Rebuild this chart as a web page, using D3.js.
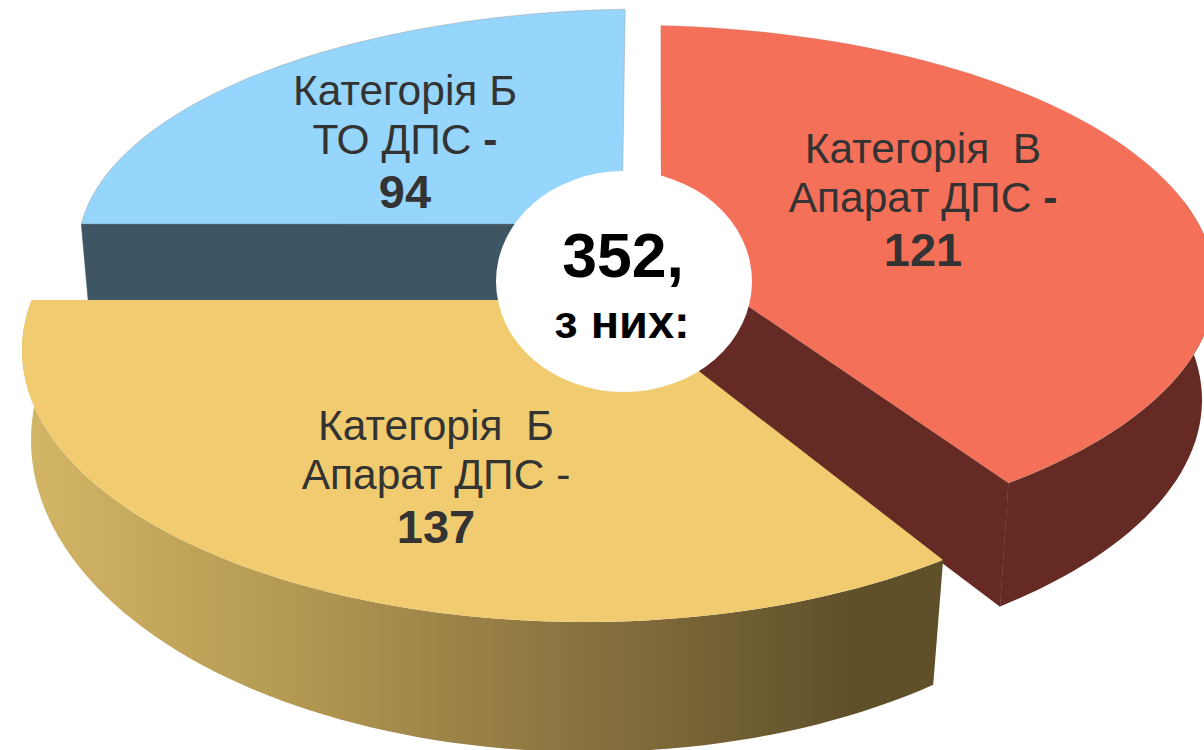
<!DOCTYPE html>
<html>
<head>
<meta charset="utf-8">
<script src="https://cdn.jsdelivr.net/npm/d3@7"></script>
<style>
  html, body { margin: 0; padding: 0; background: #fff; }
  svg { display: block; }
  text { font-family: "Liberation Sans", Arial, sans-serif; white-space: pre; }
</style>
</head>
<body>
<div id="chart"></div>
<script>
// Data
const categories = ['Категорія Б', 'Категорія  В', 'Категорія  Б'];
const departments = ['ТО ДПС', 'Апарат ДПС', 'Апарат ДПС'];
const values = [94, 121, 137];
const subtitle = 'з них:';

const totalW = 1204;
const totalH = 750;
const rad = d => d * Math.PI / 180;

const svg = d3.select('#chart').append('svg')
  .attr('width', totalW).attr('height', totalH)
  .attr('viewBox', `0 0 ${totalW} ${totalH}`);

const arcs = d3.pie().sort(null)
  .startAngle(rad(-96.14)).endAngle(rad(263.86))(values);

// Scene of each exploded slice. The picture is not a true projection, so each
// slice has its own rim ellipse, floor ellipse and the angles it is seen under.
const scene = [
  {
    apex: [622, 224], apexDepth: 78, view: [-83.8, -2.3], floorShift: 0,
    rim: { cx: 648, cy: 250, rx: 570, ry: 241 },
    floor: { cx: 648, cy: 329, rx: 563, ry: 250 },
    top: '#96d6fc', side: '#3e5663', edge: 0.5, lx: 405, ly: 105
  },
  {
    apex: [661, 247], apexDepth: 104, view: [3.2, 139.6], floorShift: 0,
    rim: { cx: 628, cy: 285, rx: 587, ry: 260 },
    floor: { cx: 628, cy: 400, rx: 574, ry: 271 },
    top: '#f57058', side: '#642a23', edge: 0.25, lx: 923, ly: 163
  },
  {
    apex: [607, 300], apexDepth: 120, view: [140.5, 280.6], floorShift: 1.2,
    rim: { cx: 585, cy: 350, rx: 563, ry: 272 },
    floor: { cx: 588, cy: 440, rx: 557, ry: 312 },
    top: '#f1cb6f', side: 'url(#wallGold)', edge: 0, lx: 436, ly: 440
  }
];

const onEllipse = (e, a) => [e.cx + e.rx * Math.sin(a), e.cy - e.ry * Math.cos(a)];
const line = d3.line();

// Wall gradient under the yellow slice
const grad = svg.append('defs').append('linearGradient')
  .attr('id', 'wallGold').attr('gradientUnits', 'userSpaceOnUse')
  .attr('x1', 30).attr('x2', 850).attr('y1', 0).attr('y2', 0);
grad.append('stop').attr('offset', '0%').attr('stop-color', '#d3b566');
grad.append('stop').attr('offset', '35%').attr('stop-color', '#b09650');
grad.append('stop').attr('offset', '66%').attr('stop-color', '#8a7340');
grad.append('stop').attr('offset', '100%').attr('stop-color', '#5f502a');

arcs.forEach((d, i) => {
  const s = scene[i];
  // pie angle -> angle seen on this slice's ellipse
  const seen = d3.scaleLinear().domain([d.startAngle, d.endAngle]).range(s.view.map(rad));
  const t0 = seen(d.startAngle), t1 = seen(d.endAngle);
  const rim = d3.range(0, 81).map(k => t0 + (t1 - t0) * k / 80);
  const floorAt = a => onEllipse(s.floor, a + rad(s.floorShift));
  const g = svg.append('g');
  const apexFloor = [s.apex[0], s.apex[1] + s.apexDepth];

  // Cut face seen from the front (blue shows its left cut, red its lower cut)
  if (i < 2) {
    const t = i === 0 ? t0 : t1;
    g.append('path')
      .attr('d', line([s.apex, onEllipse(s.rim, t), floorAt(t), apexFloor]) + 'Z')
      .attr('fill', s.side).attr('stroke', s.side).attr('stroke-width', 0.6);
  }
  // Outer wall
  if (i > 0) {
    const wall = i === 1 ? rim.filter(a => a > rad(70)) : rim;
    const outline = wall.map(a => onEllipse(s.rim, a))
      .concat(wall.slice().reverse().map(floorAt));
    g.append('path').attr('d', line(outline) + 'Z').attr('fill', s.side);
  }
  // Top face
  const face = [s.apex].concat(rim.map(a => onEllipse(s.rim, a)));
  g.append('path').attr('d', line(face) + 'Z')
    .attr('fill', s.top)
    .attr('stroke', '#8f8f8f').attr('stroke-opacity', s.edge).attr('stroke-width', 0.8);
});

// Slice labels
arcs.forEach((d, i) => {
  const s = scene[i];
  const lab = svg.append('text').attr('text-anchor', 'middle')
    .attr('fill', '#333').attr('font-size', 42.5);
  lab.append('tspan').attr('x', s.lx).attr('y', s.ly).text(categories[i]);
  const second = lab.append('tspan').attr('x', s.lx).attr('y', s.ly + 49);
  second.append('tspan').text(departments[i] + ' ');
  second.append('tspan').attr('font-weight', i === 2 ? 'normal' : 'bold').text('-');
  lab.append('tspan').attr('x', s.lx).attr('y', s.ly + 103)
    .attr('font-weight', 'bold').attr('font-size', 47).text(d.data);
});

// Centre disc with the total
svg.append('ellipse')
  .attr('cx', 624).attr('cy', 281.5).attr('rx', 128).attr('ry', 110.5)
  .attr('fill', '#fff');
svg.append('text').attr('x', 623).attr('y', 277).attr('text-anchor', 'middle')
  .attr('font-weight', 'bold').attr('font-size', 62.5).attr('fill', '#000')
  .text(`${d3.sum(values)},`);
svg.append('text').attr('x', 622).attr('y', 338).attr('text-anchor', 'middle')
  .attr('font-weight', 'bold').attr('font-size', 47).attr('fill', '#000')
  .text(subtitle);
</script>
</body>
</html>
